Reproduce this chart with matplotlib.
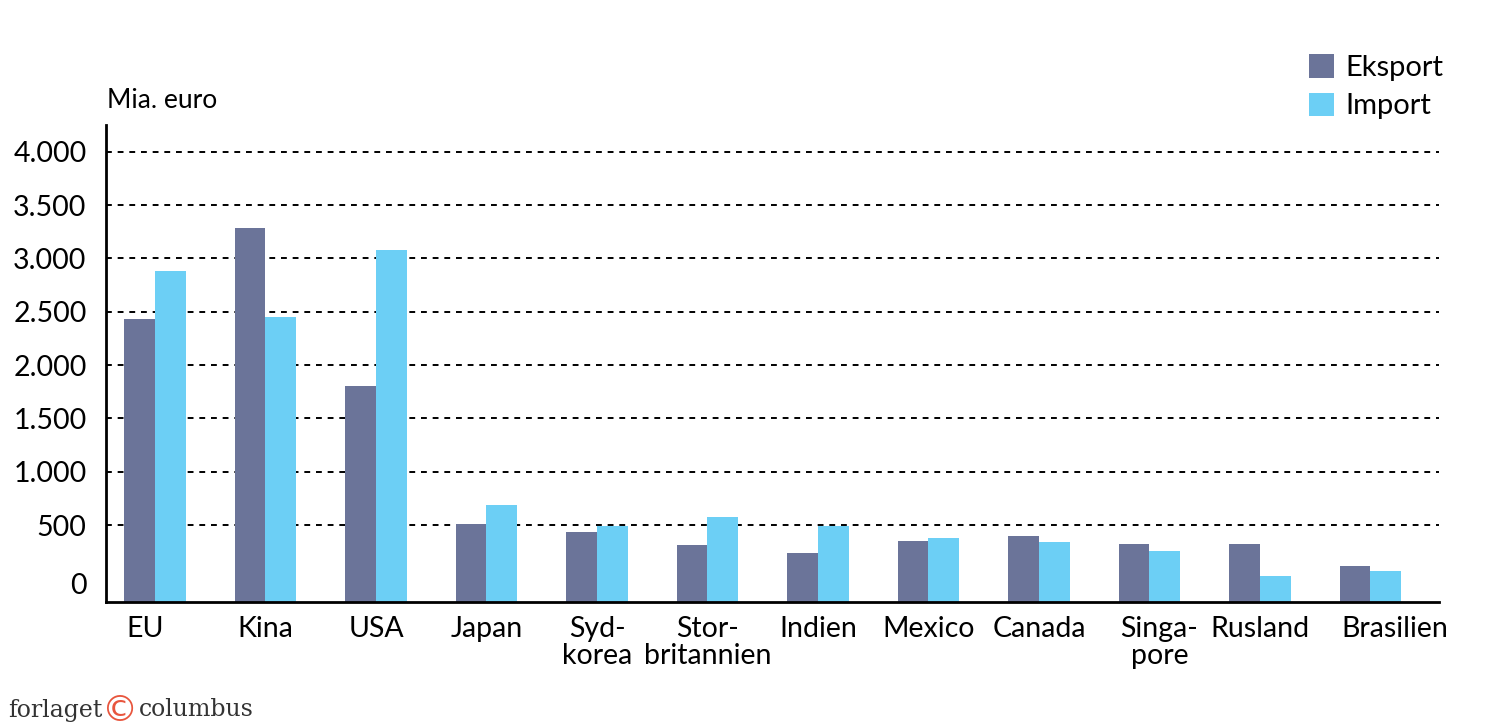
import matplotlib
matplotlib.use("Agg")
import matplotlib.pyplot as plt
import matplotlib.transforms as mtransforms
import numpy as np

categories = ["EU", "Kina", "USA", "Japan", "Syd-\nkorea", "Stor-\nbritannien", "Indien",
              "Mexico", "Canada", "Singa-\npore", "Rusland", "Brasilien"]
eksport = [2430, 3285, 1805, 510, 435, 312, 237, 350, 397, 319, 319, 122]
import_ = [2880, 2450, 3075, 687, 490, 575, 490, 378, 340, 262, 28, 66]
yticks = [0, 500, 1000, 1500, 2000, 2500, 3000, 3500, 4000]
ytick_labels = ["0", "500", "1.000", "1.500", "2.000", "2.500", "3.000", "3.500", "4.000"]

C_EXP = "#6b7499"
C_IMP = "#6ccff5"
FONT = "Lato"

fig = plt.figure(figsize=(15.01, 7.28), dpi=100)
ax = fig.add_axes([106/1501, 1-602/728, (1439-106)/1501, (602-125)/728])

ymin, ymax = -220, 4250
x = np.arange(len(categories))
w = 0.28
ax.bar(x - w/2, np.array(eksport) - ymin, w, bottom=ymin, color=C_EXP, label="Eksport", zorder=2)
ax.bar(x + w/2, np.array(import_) - ymin, w, bottom=ymin, color=C_IMP, label="Import", zorder=2)

for t in yticks:
    if t > 0:
        ax.axhline(t, color="black", lw=1.4, ls=(0, (3, 3)), zorder=1)

ax.set_ylim(ymin, ymax)
ax.set_xlim(-0.443, 11.62)
ax.set_yticks(yticks)
ax.set_yticklabels(ytick_labels, fontsize=20.5, family=FONT)
ax.set_xticks(x)
ax.set_xticklabels(categories, fontsize=20.5, family=FONT, linespacing=1.05, va="top")
ax.tick_params(axis="both", length=0)
ax.tick_params(axis="y", pad=14)
ax.tick_params(axis="x", pad=10)
for s in ["top", "right"]:
    ax.spines[s].set_visible(False)
for s in ["left", "bottom"]:
    ax.spines[s].set_linewidth(2)

# small label nudges as in the original layout (pixels)
nudges = {"EU": -10, "Singa-\npore": 10, "Brasilien": 24}
for lbl in ax.get_xticklabels():
    dx = nudges.get(lbl.get_text(), 0)
    if dx:
        lbl.set_transform(lbl.get_transform() + mtransforms.ScaledTranslation(dx/100, 0, fig.dpi_scale_trans))
for lbl in ax.get_yticklabels():
    if lbl.get_text() == "0":
        lbl.set_transform(lbl.get_transform() + mtransforms.ScaledTranslation(0, -5/100, fig.dpi_scale_trans))

fig.text(107/1501, 1-100/728, "Mia. euro", fontsize=19, family=FONT, va="center", ha="left")

leg = fig.legend(loc="upper left", bbox_to_anchor=(1283/1501, 1-28/728), frameon=False,
                 prop={"family": FONT, "size": 21}, handlelength=0.85, handleheight=0.85,
                 handletextpad=0.4, labelspacing=0.4)

fig.text(8/1501, 1-710/728, "forlaget", fontsize=17, family="DejaVu Serif", color="#333333",
         va="center", ha="left")
fig.text(120/1501, 1-711/728, "©", fontsize=26, family="DejaVu Sans", color="#e8553d",
         va="center", ha="center")
fig.text(139/1501, 1-710/728, "columbus", fontsize=17, family="DejaVu Serif", color="#333333",
         va="center", ha="left")

fig.savefig("out.png", dpi=100)
